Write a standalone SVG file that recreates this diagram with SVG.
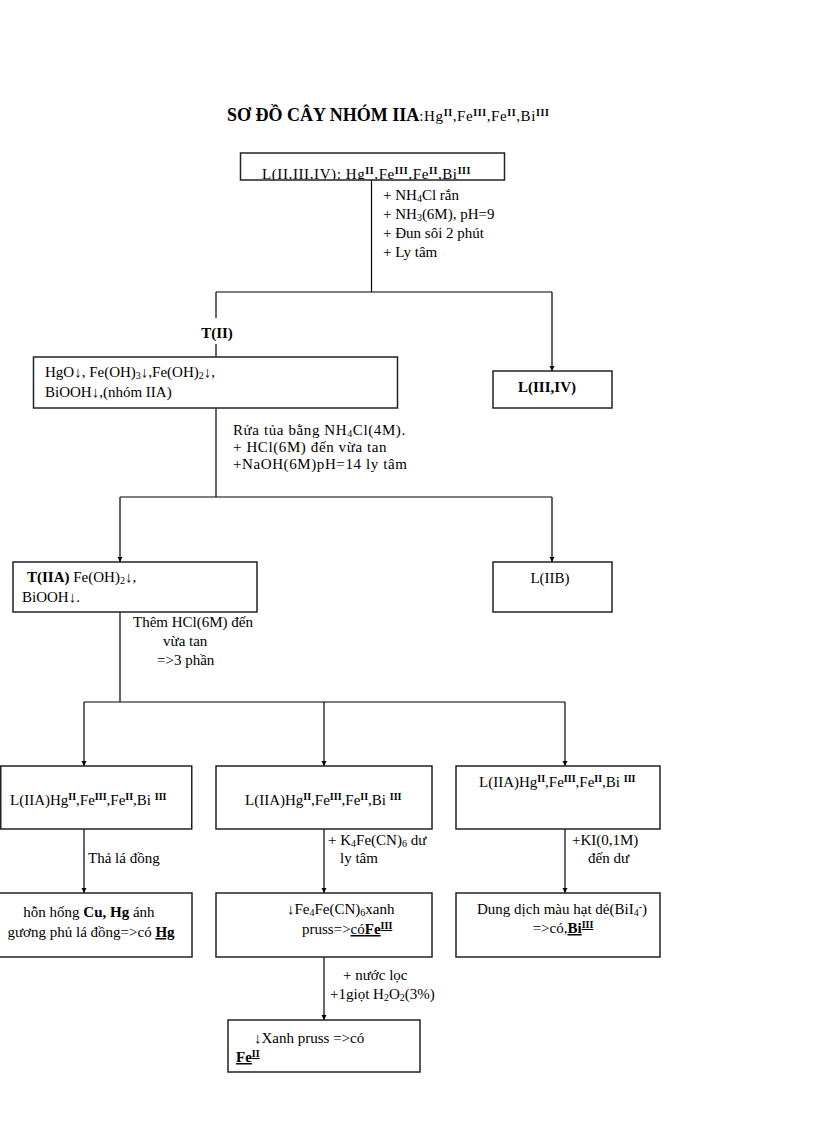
<svg xmlns="http://www.w3.org/2000/svg" width="816" height="1123" viewBox="0 0 816 1123">
<style>
text{font-family:"Liberation Serif","Times New Roman",serif;font-size:15px;fill:#000}
.b{font-weight:bold}
.u{text-decoration:underline}
.w{letter-spacing:0.6px}
.box{fill:#fff;stroke:#222;stroke-width:1.5}
.ln{stroke:#000;stroke-width:1.2;fill:none}
.sup{font-size:10px;font-weight:bold}
.sub{font-size:10px}
</style>
<defs>
<marker id="ah" markerUnits="userSpaceOnUse" markerWidth="6" markerHeight="7" refX="5" refY="3" orient="auto">
<path d="M0,0.5 L5,3 L0,5.5 z" fill="#000"/>
</marker>
<clipPath id="topclip"><rect x="240" y="150" width="265" height="29.5"/></clipPath>
</defs>
<rect width="816" height="1123" fill="#fff"/>

<g id="title">
<text x="227" y="121"><tspan class="b" style="font-size:18px">SƠ ĐỒ CÂY NHÓM IIA</tspan><tspan class="w">:Hg<tspan class="sup" baseline-shift="5">II</tspan>,Fe<tspan class="sup" baseline-shift="5">III</tspan>,Fe<tspan class="sup" baseline-shift="5">II</tspan>,Bi<tspan class="sup" baseline-shift="5">III</tspan></tspan></text>
</g>

<g id="connectors">
<line class="ln" x1="371.5" y1="180" x2="371.5" y2="292"/>
<line class="ln" x1="216" y1="292" x2="552" y2="292"/>
<line class="ln" x1="216" y1="292" x2="216" y2="318"/>
<line class="ln" x1="216" y1="344" x2="216" y2="357"/>
<line class="ln" x1="552" y1="292" x2="552" y2="371" marker-end="url(#ah)"/>
<line class="ln" x1="216" y1="408" x2="216" y2="497"/>
<line class="ln" x1="120" y1="497" x2="552" y2="497"/>
<line class="ln" x1="120" y1="497" x2="120" y2="562" marker-end="url(#ah)"/>
<line class="ln" x1="552" y1="497" x2="552" y2="562" marker-end="url(#ah)"/>
<line class="ln" x1="120" y1="612" x2="120" y2="702"/>
<line class="ln" x1="84" y1="702" x2="565" y2="702"/>
<line class="ln" x1="84" y1="702" x2="84" y2="766" marker-end="url(#ah)"/>
<line class="ln" x1="324" y1="702" x2="324" y2="766" marker-end="url(#ah)"/>
<line class="ln" x1="565" y1="702" x2="565" y2="766" marker-end="url(#ah)"/>
<line class="ln" x1="84" y1="829" x2="84" y2="893" marker-end="url(#ah)"/>
<line class="ln" x1="324" y1="829" x2="324" y2="893" marker-end="url(#ah)"/>
<line class="ln" x1="565" y1="829" x2="565" y2="893" marker-end="url(#ah)"/>
<line class="ln" x1="324" y1="957" x2="324" y2="1020" marker-end="url(#ah)"/>
</g>

<g id="labels">
<text x="383" y="200">+ NH<tspan class="sub" baseline-shift="-2">4</tspan>Cl rắn</text>
<text x="383" y="219">+ NH<tspan class="sub" baseline-shift="-2">3</tspan>(6M),  pH=9</text>
<text x="383" y="238">+ Đun  sôi 2 phút</text>
<text x="383" y="257">+ Ly tâm</text>
<text x="217" y="338" class="b" text-anchor="middle">T(II)</text>
<text x="233" y="435" class="w">Rửa tủa bằng NH<tspan class="sub" baseline-shift="-2">4</tspan>Cl(4M).</text>
<text x="233" y="452" class="w">+ HCl(6M)  đến vừa tan</text>
<text x="233" y="469" class="w">+NaOH(6M)pH=14 ly  tâm</text>
<text x="133" y="627">Thêm  HCl(6M)  đến</text>
<text x="163" y="646">vừa tan</text>
<text x="157" y="665">=&gt;3 phần</text>
<text x="88" y="863">Thả lá đồng</text>
<text x="328" y="845">+ K<tspan class="sub" baseline-shift="-2">4</tspan>Fe(CN)<tspan class="sub" baseline-shift="-2">6</tspan> dư</text>
<text x="340" y="863">ly  tâm</text>
<text x="572" y="845">+KI(0,1M)</text>
<text x="588" y="863">đến dư</text>
<text x="343" y="980">+ nước lọc</text>
<text x="330" y="999">+1giọt  H<tspan class="sub" baseline-shift="-2">2</tspan>O<tspan class="sub" baseline-shift="-2">2</tspan>(3%)</text>
</g>

<g id="n_top">
<rect class="box" x="240.5" y="153" width="264" height="27"/>
<text x="262" y="179" class="w" clip-path="url(#topclip)">L(II,III,IV): Hg<tspan class="sup" baseline-shift="5">II</tspan>,Fe<tspan class="sup" baseline-shift="5">III</tspan>,Fe<tspan class="sup" baseline-shift="5">II</tspan>,Bi<tspan class="sup" baseline-shift="5">III</tspan></text>
</g>

<g id="n_TII">
<rect class="box" x="33.5" y="357" width="364" height="51"/>
<text x="45" y="377">HgO↓, Fe(OH)<tspan class="sub" baseline-shift="-2">3</tspan>↓,Fe(OH)<tspan class="sub" baseline-shift="-2">2</tspan>↓,</text>
<text x="45" y="397">BiOOH↓,(nhóm  IIA)</text>
</g>

<g id="n_LIIIIV">
<rect class="box" x="493" y="371" width="119" height="37"/>
<text x="547" y="392" class="b" text-anchor="middle">L(III,IV)</text>
</g>

<g id="n_TIIA">
<rect class="box" x="13" y="562" width="244" height="50"/>
<text x="27" y="582"><tspan class="b">T(IIA)</tspan> Fe(OH)<tspan class="sub" baseline-shift="-2">2</tspan>↓,</text>
<text x="22" y="602">BiOOH↓.</text>
</g>

<g id="n_LIIB">
<rect class="box" x="493" y="562" width="119" height="50"/>
<text x="550" y="583" text-anchor="middle">L(IIB)</text>
</g>

<g id="n_L1">
<rect class="box" x="0.75" y="766" width="191" height="63"/>
<text x="10" y="805">L(IIA)Hg<tspan class="sup" baseline-shift="5">II</tspan>,Fe<tspan class="sup" baseline-shift="5">III</tspan>,Fe<tspan class="sup" baseline-shift="5">II</tspan>,Bi <tspan class="sup" baseline-shift="5">III</tspan></text>
</g>

<g id="n_L2">
<rect class="box" x="216" y="766" width="216" height="63"/>
<text x="245" y="805">L(IIA)Hg<tspan class="sup" baseline-shift="5">II</tspan>,Fe<tspan class="sup" baseline-shift="5">III</tspan>,Fe<tspan class="sup" baseline-shift="5">II</tspan>,Bi <tspan class="sup" baseline-shift="5">III</tspan></text>
</g>

<g id="n_L3">
<rect class="box" x="456" y="766" width="204" height="63"/>
<text x="479" y="787">L(IIA)Hg<tspan class="sup" baseline-shift="5">II</tspan>,Fe<tspan class="sup" baseline-shift="5">III</tspan>,Fe<tspan class="sup" baseline-shift="5">II</tspan>,Bi <tspan class="sup" baseline-shift="5">III</tspan></text>
</g>

<g id="n_Hg">
<rect class="box" x="-2" y="893" width="194" height="64"/>
<text x="89" y="917" text-anchor="middle">hỗn hống <tspan class="b">Cu, Hg</tspan> ánh</text>
<text x="91" y="937" text-anchor="middle">gương phủ lá đồng=&gt;có <tspan class="b u">Hg</tspan></text>
</g>

<g id="n_FeIII">
<rect class="box" x="216" y="893" width="216" height="64"/>
<text x="287" y="914">↓Fe<tspan class="sub" baseline-shift="-2">4</tspan>Fe(CN)<tspan class="sub" baseline-shift="-2">6</tspan>xanh</text>
<text x="302" y="934">pruss=&gt;<tspan class="u">có</tspan><tspan class="b u">Fe</tspan><tspan class="sup u" baseline-shift="5">III</tspan></text>
</g>

<g id="n_BiIII">
<rect class="box" x="456" y="893" width="204" height="64"/>
<text x="562" y="914" text-anchor="middle">Dung  dịch màu hạt dẻ(BiI<tspan class="sub" baseline-shift="-2">4</tspan><tspan class="sub" baseline-shift="4">-</tspan>)</text>
<text x="563" y="933" text-anchor="middle">=&gt;có,<tspan class="b u">Bi</tspan><tspan class="sup u" baseline-shift="5">III</tspan></text>
</g>

<g id="n_FeII">
<rect class="box" x="228" y="1020" width="192" height="52"/>
<text x="254" y="1043">↓Xanh  pruss =&gt;có</text>
<text x="236" y="1062"><tspan class="b u">Fe</tspan><tspan class="sup u" baseline-shift="5">II</tspan></text>
</g>
</svg>
